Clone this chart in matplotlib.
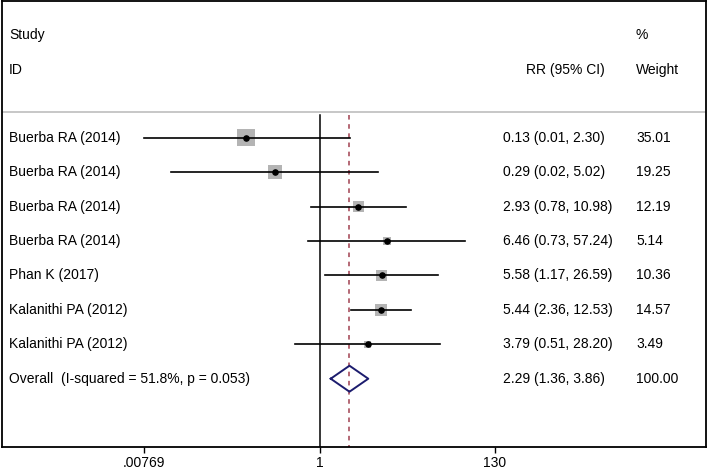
import numpy as np
import matplotlib
matplotlib.use('Agg')
import matplotlib.pyplot as plt
from matplotlib import transforms

plt.rcParams['font.family'] = ['Liberation Sans', 'DejaVu Sans']

studies = ['Buerba RA (2014)', 'Buerba RA (2014)', 'Buerba RA (2014)', 'Buerba RA (2014)',
           'Phan K (2017)', 'Kalanithi PA (2012)', 'Kalanithi PA (2012)']
rr = [0.13, 0.29, 2.93, 6.46, 5.58, 5.44, 3.79]
lo = [0.0077, 0.016, 0.78, 0.73, 1.17, 2.36, 0.51]
hi = [2.30, 5.02, 10.98, 57.24, 26.59, 12.53, 28.20]
weight = [35.01, 19.25, 12.19, 5.14, 10.36, 14.57, 3.49]

overall_label = 'Overall  (I-squared = 51.8%, p = 0.053)'
overall_rr, overall_lo, overall_hi = 2.29, 1.36, 3.86

tick_vals = [1 / 130, 1, 130]
tick_labels = ['.00769', '1', '130']

W, H = 709, 473
fig = plt.figure(figsize=(W / 100, H / 100), dpi=100)
# frame box in pixels: left 1.7, right 706, top 1, bottom 446.7
ax = fig.add_axes([1.7 / W, (H - 446.7) / H, (706 - 1.7) / W, (446.7 - 1) / H])
ax.set_xscale('log')
ax.set_xlim(np.exp(-8.83), np.exp(10.73))
# rows are 34.43 px apart, first study row at 137.7 px
row_px = 34.43
y_top = (1 - 137.7) / row_px
y_bot = (446.7 - 137.7) / row_px
ax.set_ylim(y_bot, y_top)

for s in ax.spines.values():
    s.set_linewidth(1.3)
ax.set_yticks([])
ax.set_xticks(tick_vals)
ax.set_xticklabels(tick_labels)
ax.xaxis.set_minor_locator(matplotlib.ticker.NullLocator())
ax.tick_params(axis='x', length=4.5, width=1, pad=2, labelsize=10)

def xfrac(px):
    return (px - 1.7) / (706 - 1.7)

trans = transforms.blended_transform_factory(ax.transAxes, ax.transData)
fs = 10

# header
y_sep = (112 - 137.7) / row_px
ax.axhline(y_sep, color='#bdbdbd', lw=1.2)
ax.text(xfrac(9), (35 - 137.7) / row_px, 'Study', transform=trans, va='center', fontsize=fs)
ax.text(xfrac(9), (70 - 137.7) / row_px, 'ID', transform=trans, va='center', fontsize=fs)
ax.text(xfrac(526), (70 - 137.7) / row_px, 'RR (95% CI)', transform=trans, va='center', fontsize=fs)
ax.text(xfrac(636), (35 - 137.7) / row_px, '%', transform=trans, va='center', fontsize=fs)
ax.text(xfrac(636), (70 - 137.7) / row_px, 'Weight', transform=trans, va='center', fontsize=fs)

# reference lines
y_line_top = (115 - 137.7) / row_px
ax.plot([1, 1], [y_line_top, y_bot], color='black', lw=1.1)
ax.plot([overall_rr, overall_rr], [y_line_top, y_bot], color='#a0404f', lw=1.1,
        ls=(0, (3, 3)))

n = len(studies)
ys = np.arange(n)
for i in range(n):
    ax.plot([lo[i], hi[i]], [ys[i], ys[i]], color='black', lw=1.2, zorder=3)
side_pt = (2.6 * np.sqrt(weight) + 2) * 0.72
ax.scatter(rr, ys, marker='s', s=side_pt ** 2, color='#b4b4b4', edgecolors='none', zorder=2)
ax.scatter(rr, ys, marker='o', s=14, color='black', zorder=4)

for i in range(n):
    ax.text(xfrac(9), ys[i], studies[i], transform=trans, va='center', fontsize=fs)
    ax.text(xfrac(503), ys[i], f'{rr[i]:.2f} ({lo[i]:.2f}, {hi[i]:.2f})', transform=trans,
            va='center', fontsize=fs)
    ax.text(xfrac(636), ys[i], f'{weight[i]:.2f}', transform=trans, va='center', fontsize=fs)

# overall diamond
yo = n
dh = 13 / row_px
ax.plot([overall_lo, overall_rr, overall_hi, overall_rr, overall_lo],
        [yo, yo - dh, yo, yo + dh, yo], color='#1c1c6e', lw=1.4, zorder=3)
ax.text(xfrac(9), yo, overall_label, transform=trans, va='center', fontsize=fs)
ax.text(xfrac(503), yo, f'{overall_rr:.2f} ({overall_lo:.2f}, {overall_hi:.2f})',
        transform=trans, va='center', fontsize=fs)
ax.text(xfrac(636), yo, '100.00', transform=trans, va='center', fontsize=fs)

fig.savefig('out.png', dpi=100)
